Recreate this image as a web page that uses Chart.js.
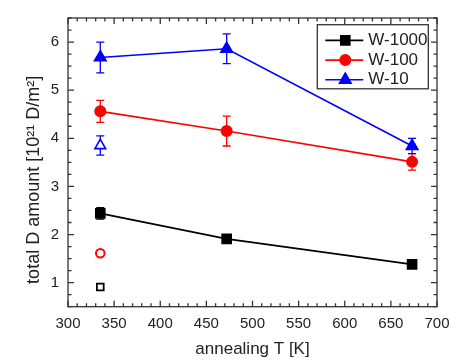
<!DOCTYPE html>
<html>
<head>
<meta charset="utf-8">
<script src="https://cdn.jsdelivr.net/npm/chart.js@4.4.0/dist/chart.umd.min.js"></script>
<style>
  body { margin: 0; background: #fff; }
</style>
</head>
<body>
<canvas id="chart" width="461" height="361"></canvas>
<script>
// annealing temperatures and total D amount (10^21 D/m^2)
var temps = [335, 472, 673];
var w1000 = [2.44, 1.91, 1.38];
var w1000Err = [0.12, 0.09, 0];
var w100 = [4.56, 4.15, 3.51];
var w100Err = [0.23, 0.31, 0.17];
var w10 = [5.68, 5.86, 3.84];
var w10Err = [0.32, 0.31, 0.16];

// open symbols, only at 335 K
var openTemps = [335];
var w1000Open = [0.91];
var w100Open = [1.61];
var w10Open = [3.85];
var w10OpenErr = [0.2];

var xTicks = [300, 350, 400, 450, 500, 550, 600, 650, 700];
var yTicks = [1, 2, 3, 4, 5, 6];

var font = "'Liberation Sans', Arial, sans-serif";
var ink = '#222';

function points(xs, ys) {
	var out = [];
	for (var i in xs) out.push({x: xs[i], y: ys[i]});
	return out;
}

// vertical error bars with caps
var errorBars = {
	id: 'errorBars',
	beforeDatasetsDraw: function(chart) {
		var ctx = chart.ctx, xs = chart.scales.x, ys = chart.scales.y;
		chart.data.datasets.forEach(function(ds) {
			if (!ds.errors) return;
			ctx.save();
			ctx.strokeStyle = ds.borderColor;
			ctx.lineWidth = 1.3;
			ds.data.forEach(function(p, i) {
				var e = ds.errors[i];
				if (!e) return;
				var px = xs.getPixelForValue(p.x);
				var top = ys.getPixelForValue(p.y + e);
				var bot = ys.getPixelForValue(p.y - e);
				ctx.beginPath();
				ctx.moveTo(px, top); ctx.lineTo(px, bot);
				ctx.moveTo(px - 4, top); ctx.lineTo(px + 4, top);
				ctx.moveTo(px - 4, bot); ctx.lineTo(px + 4, bot);
				ctx.stroke();
			});
			ctx.restore();
		});
	}
};

// box around the plot with inward ticks on all four sides
var frame = {
	id: 'frame',
	afterDatasetsDraw: function(chart) {
		var ctx = chart.ctx, a = chart.chartArea, xs = chart.scales.x, ys = chart.scales.y;
		ctx.save();
		ctx.strokeStyle = '#333';
		ctx.lineWidth = 1.3;
		ctx.strokeRect(a.left, a.top, a.right - a.left, a.bottom - a.top);
		ctx.beginPath();
		for (var v = xs.min; v <= xs.max; v += 10) {
			var px = xs.getPixelForValue(v);
			var len = v % 50 === 0 ? 6 : 3.5;
			ctx.moveTo(px, a.bottom); ctx.lineTo(px, a.bottom - len);
			ctx.moveTo(px, a.top); ctx.lineTo(px, a.top + len);
		}
		for (var k = ys.min * 4; k <= ys.max * 4; k++) {
			var py = ys.getPixelForValue(k / 4);
			var l = k % 4 === 0 ? 6 : 3.5;
			ctx.moveTo(a.left, py); ctx.lineTo(a.left + l, py);
			ctx.moveTo(a.right, py); ctx.lineTo(a.right - l, py);
		}
		ctx.stroke();
		ctx.restore();
	}
};

// legend in a box, top right inside the plot
var boxLegend = {
	id: 'boxLegend',
	afterDraw: function(chart) {
		var ctx = chart.ctx, a = chart.chartArea;
		var items = chart.data.datasets.filter(function(ds) { return ds.inLegend; });
		var w = 111, rowH = 19.7;
		var h = items.length * rowH + 5;
		var left = a.right - 8.7 - w, top = a.top + 6.7;
		ctx.save();
		ctx.fillStyle = '#fff';
		ctx.fillRect(left, top, w, h);
		ctx.strokeStyle = '#333';
		ctx.lineWidth = 1.3;
		ctx.strokeRect(left, top, w, h);
		items.forEach(function(ds, i) {
			var cy = top + 15.7 + i * rowH;
			ctx.strokeStyle = ds.borderColor;
			ctx.lineWidth = ds.borderWidth;
			ctx.beginPath();
			ctx.moveTo(left + 8, cy); ctx.lineTo(left + 46, cy);
			ctx.stroke();
			ctx.fillStyle = ds.pointBackgroundColor;
			Chart.helpers.drawPoint(ctx, {pointStyle: ds.pointStyle, radius: ds.pointRadius, borderWidth: 1, rotation: 0}, left + 28, cy);
			ctx.fillStyle = ink;
			ctx.font = '17px ' + font;
			ctx.textBaseline = 'middle';
			ctx.textAlign = 'left';
			ctx.fillText(ds.label, left + 51, cy);
		});
		ctx.restore();
	}
};

var black = '#000', red = '#ff0000', blue = '#0000ff';

var chartdata = {
	datasets: [
		{
			label: 'W-1000', inLegend: true,
			data: points(temps, w1000), errors: w1000Err,
			borderColor: black, backgroundColor: black, borderWidth: 1.6,
			pointStyle: 'rect', pointRadius: 6.4, pointBackgroundColor: black, pointBorderColor: black
		},
		{
			label: 'W-100', inLegend: true,
			data: points(temps, w100), errors: w100Err,
			borderColor: red, backgroundColor: red, borderWidth: 1.6,
			pointStyle: 'circle', pointRadius: 5.2, pointBackgroundColor: red, pointBorderColor: red
		},
		{
			label: 'W-10', inLegend: true,
			data: points(temps, w10), errors: w10Err,
			borderColor: blue, backgroundColor: blue, borderWidth: 1.6,
			pointStyle: 'triangle', pointRadius: 6.7, pointBackgroundColor: blue, pointBorderColor: blue
		},
		{
			label: 'W-1000 open',
			data: points(openTemps, w1000Open), showLine: false,
			borderColor: black, pointStyle: 'rect', pointRadius: 4.8,
			pointBackgroundColor: '#fff', pointBorderColor: black, pointBorderWidth: 1.8
		},
		{
			label: 'W-100 open',
			data: points(openTemps, w100Open), showLine: false,
			borderColor: red, pointStyle: 'circle', pointRadius: 4.3,
			pointBackgroundColor: '#fff', pointBorderColor: red, pointBorderWidth: 2
		},
		{
			label: 'W-10 open',
			data: points(openTemps, w10Open), errors: w10OpenErr, showLine: false,
			borderColor: blue, pointStyle: 'triangle', pointRadius: 6.2,
			pointBackgroundColor: '#fff', pointBorderColor: blue, pointBorderWidth: 1.6
		}
	]
};

var ctx = document.getElementById('chart');

var LineGraph = new Chart(ctx, {
	type: 'line',
	data: chartdata,
	plugins: [errorBars, frame, boxLegend],
	options: {
		responsive: false,
		animation: false,
		events: [],
		layout: { padding: { left: 0, right: 24, top: 9.3, bottom: 0 } },
		plugins: {
			legend: { display: false },
			tooltip: { enabled: false }
		},
		scales: {
			x: {
				type: 'linear', min: 300, max: 700,
				grid: { display: false, drawTicks: false },
				border: { display: false },
				afterBuildTicks: function(s) { s.ticks = xTicks.map(function(v) { return {value: v}; }); },
				afterFit: function(s) { s.height = 54.3; },
				ticks: { color: ink, font: { family: font, size: 15 }, padding: 8, maxRotation: 0, autoSkip: false },
				title: { display: true, text: 'annealing T [K]', color: ink, font: { family: font, size: 17 }, padding: { top: 0, bottom: 1 } }
			},
			y: {
				type: 'linear', min: 0.5, max: 6.5,
				grid: { display: false, drawTicks: false },
				border: { display: false },
				afterBuildTicks: function(s) { s.ticks = yTicks.map(function(v) { return {value: v}; }); },
				afterFit: function(s) { s.width = 68; },
				ticks: { color: ink, font: { family: font, size: 15 }, padding: 9 },
				title: { display: true, text: 'total D amount [10\u00b2\u00b9 D/m\u00b2]       ', color: ink, font: { family: font, size: 18 }, padding: { top: 23, bottom: 0 } }
			}
		}
	}
});
</script>
</body>
</html>
